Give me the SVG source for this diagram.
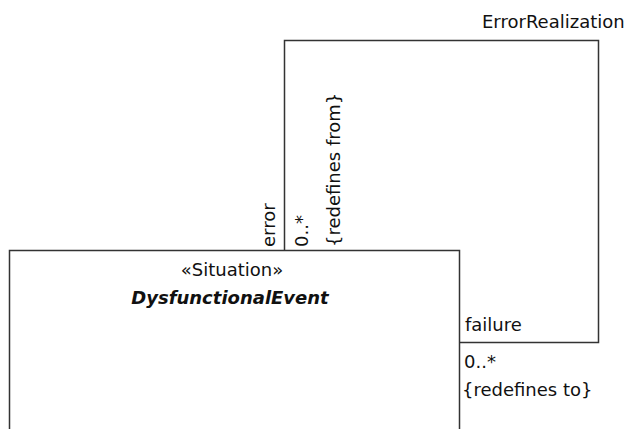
<svg xmlns="http://www.w3.org/2000/svg" width="635" height="429" viewBox="0 0 635 429">
<style>
.t{font-family:"DejaVu Sans","Liberation Sans",sans-serif;font-size:18px;fill:#111}
.b{font-weight:bold;font-style:italic}
.ln{fill:none;stroke:#333;stroke-width:1.5}
.node{fill:#fff;stroke:#333;stroke-width:1.5}
</style>
<rect width="635" height="429" fill="#fff"/>
<g id="connectors">
<polyline class="ln" points="284.5,250.5 284.5,40.5 598.5,40.5 598.5,342.5 459.5,342.5"/>
<text class="t" x="482" y="28">ErrorRealization</text>
<text class="t" transform="translate(275,247) rotate(-90)">error</text>
<text class="t" transform="translate(308,247) rotate(-90)">0..*</text>
<text class="t" transform="translate(340,247) rotate(-90)">{redefines from}</text>
<text class="t" x="465" y="331">failure</text>
<text class="t" x="464" y="368">0..*</text>
<text class="t" x="462" y="396">{redefines to}</text>
</g>
<g id="DysfunctionalEvent">
<rect class="node" x="9.5" y="250.5" width="450" height="200"/>
<text class="t" x="232" y="276" text-anchor="middle">«Situation»</text>
<text class="t b" x="230" y="304" text-anchor="middle">DysfunctionalEvent</text>
</g>
</svg>
